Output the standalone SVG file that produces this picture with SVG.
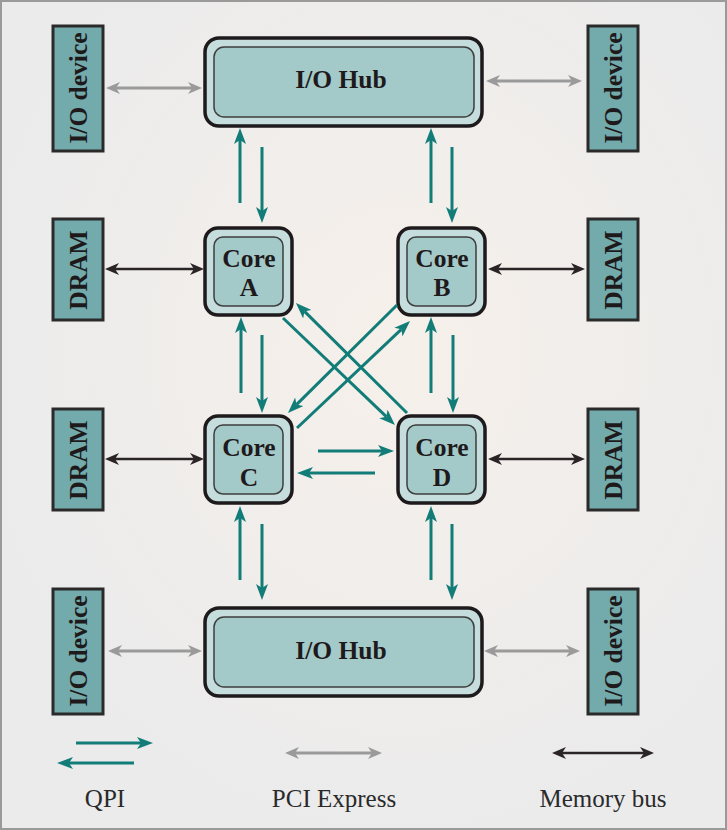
<svg xmlns="http://www.w3.org/2000/svg" width="727" height="830" viewBox="0 0 727 830">
<defs>
<radialGradient id="bg" cx="0.55" cy="0.42" r="0.6">
<stop offset="0" stop-color="#f6f0ea"/>
<stop offset="1" stop-color="#ebebec"/>
</radialGradient>
<marker id="qpi" markerUnits="userSpaceOnUse" viewBox="0 0 16 12" markerWidth="16" markerHeight="12" refX="4" refY="6" orient="auto">
<path d="M0,0 L16,6 L0,12 L4,6 Z" fill="#127d78"/>
</marker>
<marker id="pci" markerUnits="userSpaceOnUse" viewBox="0 0 14 12" markerWidth="14" markerHeight="12" refX="4" refY="6" orient="auto-start-reverse">
<path d="M0,0 L14,6 L0,12 L4,6 Z" fill="#9a9a9a"/>
</marker>
<marker id="mem" markerUnits="userSpaceOnUse" viewBox="0 0 14 12" markerWidth="14" markerHeight="12" refX="4" refY="6" orient="auto-start-reverse">
<path d="M0,0 L14,6 L0,12 L4,6 Z" fill="#2a2426"/>
</marker>
</defs>
<style>
.dev{fill:#73aaab;stroke:#2a2a2a;stroke-width:3}
.hubo{fill:#c6dddd;stroke:#1e1a1c;stroke-width:3.5}
.hubi{fill:#a4c9c9;stroke:#3e3e3e;stroke-width:1.5}
.lbl{font-family:"Liberation Serif","Times New Roman",serif;font-weight:bold;font-size:25.5px;fill:#1e1a1c;text-anchor:middle}
.leg{font-family:"Liberation Serif","Times New Roman",serif;font-size:25px;fill:#2a2a2a;text-anchor:middle}
.q{stroke:#127d78;stroke-width:3;fill:none;marker-end:url(#qpi)}
.p{stroke:#9a9a9a;stroke-width:3;fill:none;marker-start:url(#pci);marker-end:url(#pci)}
.m{stroke:#2a2426;stroke-width:2.5;fill:none;marker-start:url(#mem);marker-end:url(#mem)}
</style>
<rect x="1" y="1" width="725" height="828" fill="url(#bg)" stroke="#9a9a9a" stroke-width="2"/>

<g id="io-dev-tl"><rect class="dev" x="53" y="26" width="50" height="125"/><text class="lbl" transform="translate(87,88) rotate(-90)">I/O device</text></g>
<g id="io-dev-tr"><rect class="dev" x="588" y="26" width="50" height="125"/><text class="lbl" transform="translate(622,88) rotate(-90)">I/O device</text></g>
<g id="dram-1l"><rect class="dev" x="53" y="219" width="50" height="101"/><text class="lbl" transform="translate(87,270) rotate(-90)">DRAM</text></g>
<g id="dram-1r"><rect class="dev" x="588" y="219" width="50" height="101"/><text class="lbl" transform="translate(622,270) rotate(-90)">DRAM</text></g>
<g id="dram-2l"><rect class="dev" x="53" y="409" width="50" height="101"/><text class="lbl" transform="translate(87,460) rotate(-90)">DRAM</text></g>
<g id="dram-2r"><rect class="dev" x="588" y="409" width="50" height="101"/><text class="lbl" transform="translate(622,460) rotate(-90)">DRAM</text></g>
<g id="io-dev-bl"><rect class="dev" x="53" y="589" width="50" height="125"/><text class="lbl" transform="translate(87,651) rotate(-90)">I/O device</text></g>
<g id="io-dev-br"><rect class="dev" x="588" y="589" width="50" height="125"/><text class="lbl" transform="translate(622,651) rotate(-90)">I/O device</text></g>

<g id="hub-top"><rect class="hubo" x="205" y="38" width="277" height="88" rx="14"/><rect class="hubi" x="214" y="47" width="260" height="70" rx="10"/><text class="lbl" x="341" y="88">I/O Hub</text></g>
<g id="hub-bottom"><rect class="hubo" x="205" y="608" width="277" height="88" rx="14"/><rect class="hubi" x="214" y="617" width="260" height="70" rx="10"/><text class="lbl" x="341" y="659">I/O Hub</text></g>

<g id="core-a"><rect class="hubo" x="205" y="228" width="87" height="87" rx="13"/><rect class="hubi" x="214" y="237" width="69" height="69" rx="9"/><text class="lbl" x="249" y="267">Core</text><text class="lbl" x="249" y="296">A</text></g>
<g id="core-b"><rect class="hubo" x="398" y="228" width="87" height="87" rx="13"/><rect class="hubi" x="407" y="237" width="69" height="69" rx="9"/><text class="lbl" x="442" y="267">Core</text><text class="lbl" x="442" y="296">B</text></g>
<g id="core-c"><rect class="hubo" x="205" y="416" width="87" height="87" rx="13"/><rect class="hubi" x="214" y="425" width="69" height="69" rx="9"/><text class="lbl" x="249" y="456">Core</text><text class="lbl" x="249" y="486">C</text></g>
<g id="core-d"><rect class="hubo" x="398" y="416" width="87" height="87" rx="13"/><rect class="hubi" x="407" y="425" width="69" height="69" rx="9"/><text class="lbl" x="442" y="456">Core</text><text class="lbl" x="442" y="486">D</text></g>

<g id="connectors">
<line class="p" x1="116" y1="88" x2="192" y2="88"/>
<line class="p" x1="496" y1="81" x2="572" y2="81"/>
<line class="p" x1="118" y1="651" x2="192" y2="651"/>
<line class="p" x1="494" y1="651" x2="570" y2="651"/>
<line class="m" x1="115" y1="269" x2="194" y2="269"/>
<line class="m" x1="498" y1="269" x2="575" y2="269"/>
<line class="m" x1="115" y1="459" x2="194" y2="459"/>
<line class="m" x1="498" y1="459" x2="575" y2="459"/>

<line class="q" x1="240" y1="203" x2="240" y2="140"/>
<line class="q" x1="262" y1="147" x2="262" y2="211"/>
<line class="q" x1="431" y1="203" x2="431" y2="140"/>
<line class="q" x1="452" y1="147" x2="452" y2="211"/>
<line class="q" x1="241" y1="393" x2="241" y2="329"/>
<line class="q" x1="262" y1="335" x2="262" y2="401"/>
<line class="q" x1="431" y1="393" x2="431" y2="329"/>
<line class="q" x1="453" y1="335" x2="453" y2="401"/>
<line class="q" x1="318" y1="451" x2="382" y2="451"/>
<line class="q" x1="375" y1="473" x2="309" y2="473"/>
<line class="q" x1="283" y1="318" x2="386.3" y2="416.7"/>
<line class="q" x1="407" y1="413" x2="304.5" y2="311.4"/>
<line class="q" x1="397" y1="305" x2="296.5" y2="404.6"/>
<line class="q" x1="297" y1="428" x2="401.3" y2="329.3"/>
<line class="q" x1="240" y1="580" x2="240" y2="518"/>
<line class="q" x1="262" y1="524" x2="262" y2="588"/>
<line class="q" x1="431" y1="580" x2="431" y2="518"/>
<line class="q" x1="452" y1="524" x2="452" y2="588"/>
</g>

<g id="legend">
<line class="q" x1="76" y1="743" x2="141" y2="743"/>
<line class="q" x1="134" y1="763" x2="69" y2="763"/>
<line class="p" x1="295" y1="753" x2="372" y2="753"/>
<line class="m" x1="562" y1="753" x2="644" y2="753"/>
<text class="leg" x="105" y="807">QPI</text>
<text class="leg" x="334" y="807">PCI Express</text>
<text class="leg" x="603" y="807">Memory bus</text>
</g>
</svg>
